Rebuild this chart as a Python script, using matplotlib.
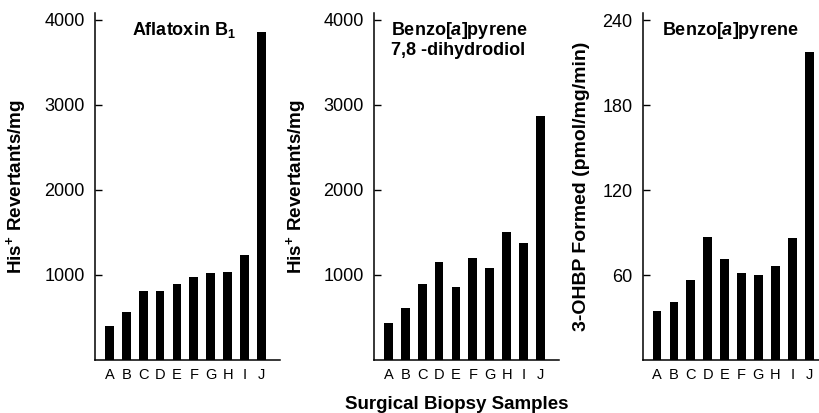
import numpy as np
import matplotlib
matplotlib.use("Agg")
import matplotlib.pyplot as plt

plt.rcParams['font.family'] = ['Liberation Sans', 'DejaVu Sans']
plt.rcParams['mathtext.fontset'] = 'custom'
plt.rcParams['mathtext.rm'] = 'Liberation Sans:bold'
plt.rcParams['mathtext.bf'] = 'Liberation Sans:bold'
plt.rcParams['mathtext.it'] = 'Liberation Sans:bold:italic'

samples = ['A', 'B', 'C', 'D', 'E', 'F', 'G', 'H', 'I', 'J']
aflatoxin = [400, 565, 812, 812, 890, 980, 1027, 1035, 1239, 3855]
bp_diol = [432, 616, 894, 1149, 862, 1204, 1086, 1509, 1380, 2874]
bp_ohbp = [34.8, 41.2, 56.2, 87.0, 71.5, 61.2, 60.0, 66.6, 85.9, 217.6]

titles = ['Aflatoxin B$_\\mathbf{1}$',
          'Benzo[$a$]pyrene\n7,8 -dihydrodiol',
          'Benzo[$a$]pyrene']
ylabels = ['His$^{+}$ Revertants/mg', 'His$^{+}$ Revertants/mg',
           '3-OHBP Formed (pmol/mg/min)']
series = [aflatoxin, bp_diol, bp_ohbp]
yticks = [[1000, 2000, 3000, 4000], [1000, 2000, 3000, 4000], [60, 120, 180, 240]]
ytops = [4085, 4085, 245.2]

# layout in pixels
W, H = 819, 413
lefts = [95, 374, 642.7]
ylab_x = [28, 308, 590]
ylab_size = [13.6, 13.6, 14.0]
title_dx = [36.7, 17, 19]
AW, AB, AH = 185, 360, 347.3

fig = plt.figure(figsize=(W / 100, H / 100), dpi=100)

x = np.arange(len(samples))
for i in range(3):
    ax = fig.add_axes([lefts[i] / W, 1 - AB / H, AW / W, AH / H])
    ax.bar(x, series[i], width=0.52, color='black')
    ax.set_xlim(-0.85, 10.1)
    ax.set_ylim(0, ytops[i])
    ax.set_xticks(x)
    ax.set_xticklabels(samples)
    ax.set_yticks(yticks[i])
    ax.spines['top'].set_visible(False)
    ax.spines['right'].set_visible(False)
    ax.spines['left'].set_linewidth(1.1)
    ax.spines['bottom'].set_linewidth(1.1)
    ax.tick_params(axis='x', length=0, pad=5.5, labelsize=10.5)
    ax.tick_params(axis='y', direction='in', length=5, width=1, pad=7.5, labelsize=13)
    ax.set_ylabel(ylabels[i], fontsize=ylab_size[i], fontweight='bold')
    ax.yaxis.set_label_coords((ylab_x[i] - lefts[i]) / AW, 0.5)
    for k, line in enumerate(titles[i].split('\n')):
        ax.text(title_dx[i] / AW, (AB - 35 - 20 * k) / AH, line,
                transform=ax.transAxes, fontsize=13, fontweight='bold',
                ha='left', va='baseline')

fig.text(457 / W, 1 - 409 / H, 'Surgical Biopsy Samples', fontsize=13.5,
         fontweight='bold', ha='center', va='baseline')

fig.savefig('out.png', dpi=100)
